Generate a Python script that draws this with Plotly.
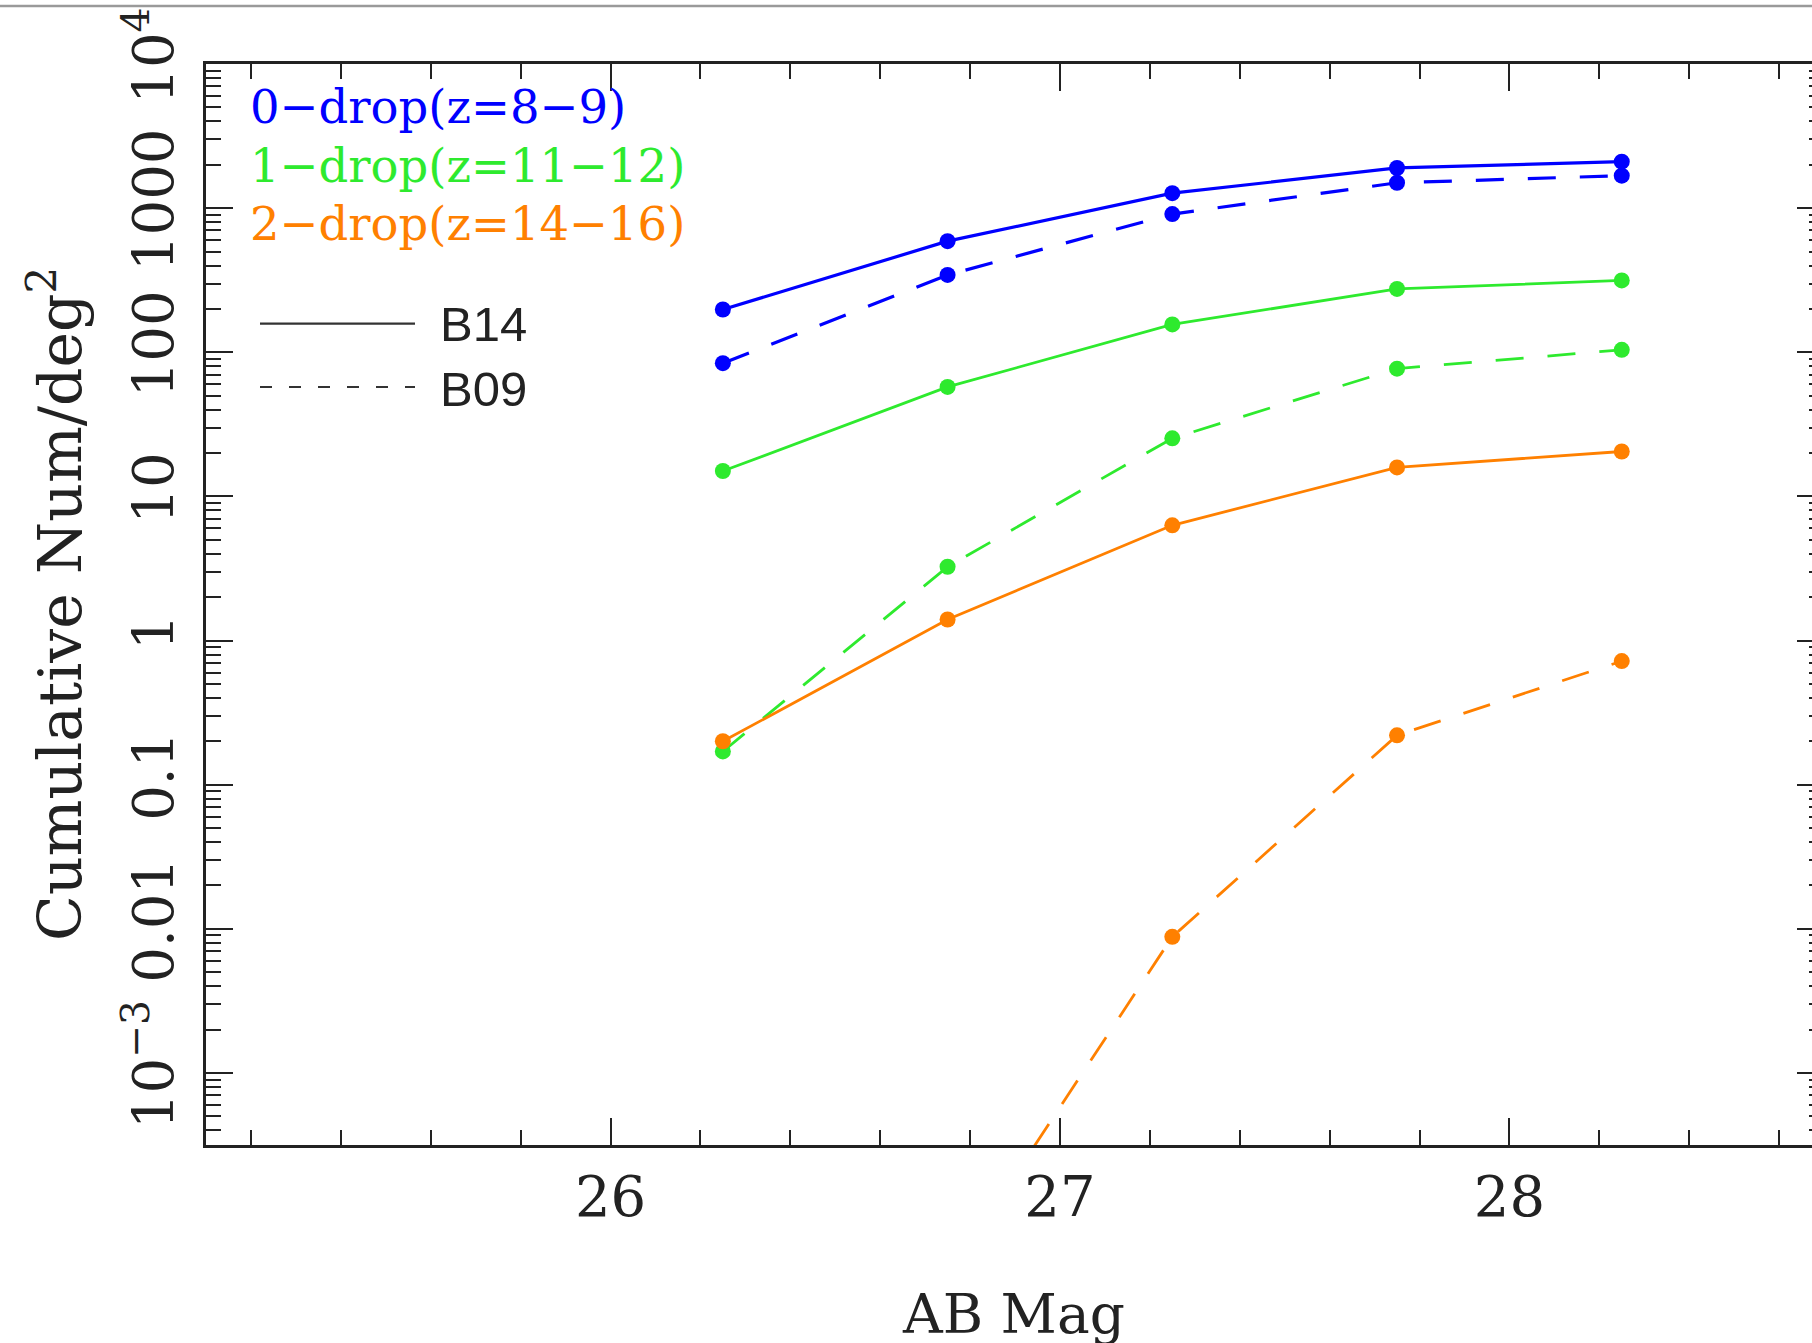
import plotly.graph_objects as go

# ---------------- data ----------------
mags = [26.25, 26.75, 27.25, 27.75, 28.25]

drop0_b14 = [198, 590, 1270, 1900, 2100]
drop0_b09 = [84, 344, 910, 1500, 1680]
drop1_b14 = [15, 57.5, 156, 275, 315]
drop1_b09 = [0.17, 3.25, 25.3, 77, 104]
drop2_b14 = [0.2, 1.4, 6.3, 15.9, 20.5]
drop2_b09 = [None, 3.8e-5, 0.0088, 0.22, 0.72]

series_labels = ["0\u2212drop(z=8\u22129)", "1\u2212drop(z=11\u221212)", "2\u2212drop(z=14\u221216)"]
series_colors = ["#0000ff", "#2eea2e", "#ff8000"]
catalog_labels = ["B14", "B09"]

x_tickvals = [26, 27, 28]
x_ticktext = ["26", "27", "28"]
y_tickvals = [1e-3, 1e-2, 0.1, 1, 10, 100, 1000, 1e4]
y_ticktext = ["10<sup>\u22123</sup>", "0.01", "0.1", "1", "10", "100", "1000", "10<sup>4</sup>"]

x_title = "AB Mag"
y_title = "Cumulative Num/deg<sup>2</sup>"

# ---------------- figure ----------------
SERIF = "DejaVu Serif"
SANS = "Liberation Sans"
AXC = "#222222"

fig = go.Figure()

groups = [
    (drop0_b14, drop0_b09, series_colors[0], 3.2),
    (drop1_b14, drop1_b09, series_colors[1], 2.8),
    (drop2_b14, drop2_b09, series_colors[2], 2.8),
]
for solid, dashed, col, lw in groups:
    fig.add_trace(go.Scatter(
        x=mags, y=dashed, mode="lines+markers",
        line=dict(color=col, width=lw, dash="28px,24px"),
        marker=dict(color=col, size=16),
        showlegend=False, cliponaxis=True,
    ))
    fig.add_trace(go.Scatter(
        x=mags, y=solid, mode="lines+markers",
        line=dict(color=col, width=lw),
        marker=dict(color=col, size=16),
        showlegend=False, cliponaxis=True,
    ))

W, H = 1826, 1343
ML, MR, MT, MB = 206, 2, 64, 198
PW = W - ML - MR
PH = H - MT - MB


def px(xp):
    return (xp - ML) / PW


def py(yp):
    return 1 - (yp - MT) / PH


fig.update_layout(
    width=W, height=H,
    margin=dict(l=ML, r=MR, t=MT, b=MB, pad=0),
    paper_bgcolor="white", plot_bgcolor="white",
    showlegend=False,
    font=dict(family=SERIF, color=AXC),
)

fig.update_xaxes(
    range=[25.1, 28.7],
    tickmode="array", tickvals=x_tickvals, ticktext=x_ticktext,
    ticks="inside", ticklen=27, tickwidth=2, tickcolor=AXC,
    minor=dict(ticks="inside", ticklen=15, tickwidth=2, tickcolor=AXC,
               dtick=0.2, tick0=25.0, showgrid=False),
    showline=True, linewidth=2.5, linecolor=AXC, mirror="ticks",
    showgrid=False, zeroline=False,
    tickfont=dict(family=SERIF, size=56, color=AXC),
    ticklabelstandoff=1,
    automargin=False,
)

fig.update_yaxes(
    type="log", range=[-3.5, 4.0001],
    tickmode="array", tickvals=y_tickvals, ticktext=y_ticktext,
    ticks="inside", ticklen=27, tickwidth=2, tickcolor=AXC,
    minor=dict(ticks="inside", ticklen=15, tickwidth=2, tickcolor=AXC,
               dtick="D1", showgrid=False),
    showline=True, linewidth=2.5, linecolor=AXC, mirror="ticks",
    showgrid=False, zeroline=False,
    tickangle=-90,
    tickfont=dict(family=SERIF, size=56, color=AXC),
    ticklabelstandoff=8,
    automargin=False,
)

annotations = []
# series colour key
row_y = [107.5, 165.5, 223.5]
for lab, col, yy in zip(series_labels, series_colors, row_y):
    annotations.append(dict(
        text=lab, x=px(248), y=py(yy), xref="paper", yref="paper",
        xanchor="left", yanchor="middle", showarrow=False,
        font=dict(family=SERIF, size=46.5, color=col),
    ))
# catalogue key
annotations.append(dict(text=catalog_labels[0], x=px(438), y=py(323.6), xref="paper", yref="paper",
                        xanchor="left", yanchor="middle", showarrow=False,
                        font=dict(family=SANS, size=49, color=AXC)))
annotations.append(dict(text=catalog_labels[1], x=px(438), y=py(389.4), xref="paper", yref="paper",
                        xanchor="left", yanchor="middle", showarrow=False,
                        font=dict(family=SANS, size=49, color=AXC)))
# axis titles
annotations.append(dict(text=x_title, x=px(1013), y=py(1314), xref="paper", yref="paper",
                        xanchor="center", yanchor="middle", showarrow=False,
                        font=dict(family=SERIF, size=55, color=AXC)))
annotations.append(dict(text=y_title, x=px(56), y=py(604), xref="paper", yref="paper",
                        xanchor="center", yanchor="middle", showarrow=False, textangle=-90,
                        font=dict(family=SERIF, size=60, color=AXC)))
fig.update_layout(annotations=annotations)

shapes = [
    dict(type="line", xref="paper", yref="paper", x0=px(260), x1=px(415), y0=py(323.6), y1=py(323.6),
         line=dict(color="#333333", width=2.2)),
    dict(type="line", xref="paper", yref="paper", x0=px(260), x1=px(415), y0=py(387), y1=py(387),
         line=dict(color="#333333", width=2.2, dash="12px,17px")),
    dict(type="line", xref="paper", yref="paper", x0=px(0), x1=px(W), y0=py(6), y1=py(6),
         line=dict(color="#9a9a9a", width=2.5)),
]
fig.update_layout(shapes=shapes)

fig.write_html(
    "out.html",
    config={"displayModeBar": False},
    post_script="document.body.style.margin='0';document.body.style.overflow='hidden';",
)
